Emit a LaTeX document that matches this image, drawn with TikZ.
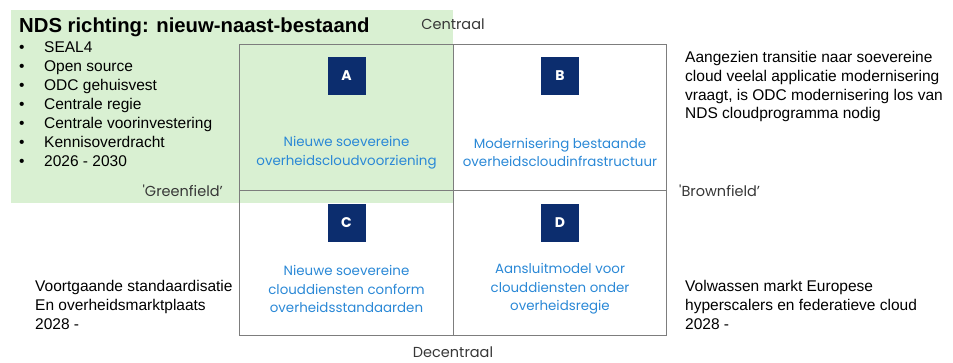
\documentclass[tikz,border=0pt]{standalone}
\usepackage{fontspec}
\setmainfont{Liberation Sans}
\newfontfamily\quadfont{Poppins}
\usetikzlibrary{positioning}
\definecolor{ndsgreen}{RGB}{217,240,210}
\definecolor{ndsnavy}{RGB}{12,45,110}
\definecolor{ndsblue}{RGB}{42,136,214}
\definecolor{gridgrey}{RGB}{125,125,125}
\definecolor{axisgrey}{RGB}{55,55,55}
\begin{document}
\begin{tikzpicture}[x=1pt,y=-1pt,
quad/.style={
% one quarter of the grid
rectangle,
draw=gridgrey,
line width=0.8pt,
minimum width=213.5pt,
minimum height=145.5pt,
inner sep=0pt
},
letterbox/.style={
rectangle,fill=ndsnavy,text=white,
minimum size=38pt,inner sep=0pt,
font=\quadfont\bfseries\fontsize{14}{14}\selectfont
},
quadtext/.style={
text=ndsblue,align=center,inner sep=0pt,
font=\quadfont\fontsize{13.4}{18.7}\selectfont
},
axis/.style={text=axisgrey,inner sep=0pt,font=\quadfont\fontsize{14.5}{14.5}\selectfont},
note/.style={align=left,anchor=base west,inner sep=0pt,font=\fontsize{15.5}{18.7}\selectfont}
]
\useasboundingbox (0,0) rectangle (953,363);
% green zone behind the grid
\node (zone) [fill=ndsgreen,anchor=north west,inner sep=0pt,minimum width=442pt,minimum height=193pt] at (11,10) {};
% the four quadrants
\node (qA) [quad] at (346.5,117.5) {};
\node (qB) [quad] at (560,117.5) {};
\node (qC) [quad] at (346.5,263) {};
\node (qD) [quad] at (560,263) {};
\node (boxA) [letterbox,below=12pt of qA.north] {A};
\node (boxB) [letterbox,below=12pt of qB.north] {B};
\node (boxC) [letterbox,below=13.5pt of qC.north] {C};
\node (boxD) [letterbox,below=13.5pt of qD.north] {D};
\node (textA) [quadtext] at (346.5,152.5) {Nieuwe soevereine\\overheidscloudvoorziening};
\node (textB) [quadtext] at (560,152.5) {Modernisering bestaande\\overheidscloudinfrastructuur};
\node (textC) [quadtext] at (346.5,289) {Nieuwe soevereine\\clouddiensten conform\\overheidsstandaarden};
\node (textD) [quadtext] at (560,289) {Aansluitmodel voor\\clouddiensten onder\\overheidsregie};
% axis labels
\node (centraal) [axis] at (453,24.5) {Centraal};
\node (decentraal) [axis,anchor=base] at (453,357) {Decentraal};
\node (greenfield) [axis,anchor=east] at (223,191) {\textquotesingle Greenfield’};
\node (brownfield) [axis,anchor=west] at (679,191) {\textquotesingle Brownfield’};
% notes
\node (title) [anchor=base west,inner sep=0pt,font=\bfseries\fontsize{20.3}{20.3}\selectfont] at (19,33) {NDS richting: nieuw-naast-bestaand};
\node (bullets) [anchor=base west,inner sep=0pt,font=\fontsize{15.5}{19}\selectfont] at (19,53)
{\begin{tabular}[t]{@{}p{25pt}@{}l@{}}
\textbullet & SEAL4\\
\textbullet & Open source\\
\textbullet & ODC gehuisvest\\
\textbullet & Centrale regie\\
\textbullet & Centrale voorinvestering\\
\textbullet & Kennisoverdracht\\
\textbullet & 2026 - 2030
\end{tabular}};
% base of a multi-line note is its last line
\node (transitie) [note] at (685,119) {Aangezien transitie naar soevereine\\cloud veelal applicatie modernisering\\vraagt, is ODC modernisering los van\\NDS cloudprogramma nodig};
\node (standaard) [note] at (35,329) {Voortgaande standaardisatie\\En overheidsmarktplaats\\2028 -};
\node (markt) [note] at (685,329) {Volwassen markt Europese\\hyperscalers en federatieve cloud\\2028 -};
\end{tikzpicture}
\end{document}
